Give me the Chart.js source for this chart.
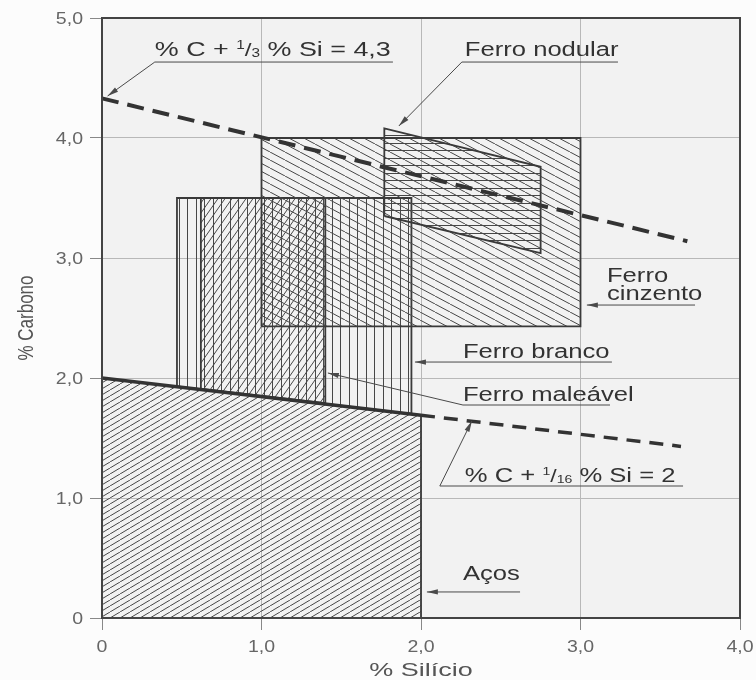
<!DOCTYPE html>
<html lang="pt">
<head>
<meta charset="UTF-8">
<title>Ferros fundidos e aços: % C x % Si</title>
<script src="https://cdn.jsdelivr.net/npm/chart.js"></script>
<style>
  body { margin: 0; background: #fdfdfd; }
  canvas { display: block; }
</style>
</head>
<body>
<canvas id="ferroChart" width="756" height="680"></canvas>
<script>
// rótulos dos eixos
const siTicks = ['0', '1,0', '2,0', '3,0', '4,0'];
const cTicks = ['0', '1,0', '2,0', '3,0', '4,0', '5,0'];

// regiões (% Si, % C)
const acosSi = [0, 0, 2.0, 2.0, 0];
const acosC = [0, 2.0, 1.69, 0, 0];
const brancoSi = [0.47, 0.47, 1.94, 1.94, 0.47];
const brancoC = [1.93, 3.5, 3.5, 1.70, 1.93];
const maleavelSi = [0.62, 0.62, 1.40, 1.40, 0.62];
const maleavelC = [1.91, 3.5, 3.5, 1.79, 1.91];
const cinzentoSi = [1.0, 1.0, 3.0, 3.0, 1.0];
const cinzentoC = [2.43, 4.0, 4.0, 2.43, 2.43];
const nodularSi = [1.77, 1.77, 2.75, 2.75, 1.77];
const nodularC = [3.35, 4.08, 3.76, 3.04, 3.35];

// linhas %C + 1/3 %Si = 4,3 e %C + 1/16 %Si = 2
const linha43Si = [0, 3.67];
const linha43C = [4.33, 3.14];
const linha2Si = [0, 2.0, 3.63];
const linha2C = [2.0, 1.69, 1.43];

const pts = (xs, ys) => xs.map((x, i) => ({ x: x, y: ys[i] }));

// hachuras
function hatch(w, h, draw) {
  const c = document.createElement('canvas');
  c.width = w; c.height = h;
  const g = c.getContext('2d');
  g.strokeStyle = '#474747';
  g.lineWidth = 1;
  g.beginPath();
  draw(g, w, h);
  g.stroke();
  return g.createPattern(c, 'repeat');
}
const slash = (w, h) => hatch(w, h, g => {
  for (let k = -1; k <= 1; k++) { g.moveTo(k * w, h); g.lineTo((k + 1) * w, 0); }
});
const backslash = (w, h) => hatch(w, h, g => {
  for (let k = -1; k <= 1; k++) { g.moveTo(k * w, 0); g.lineTo((k + 1) * w, h); }
});
const vlines = hatch(17, 4, g => { g.moveTo(0.5, 0); g.lineTo(0.5, 4); g.moveTo(9.5, 0); g.lineTo(9.5, 4); });
const hlines = hatch(4, 15, g => { g.moveTo(0, 0.5); g.lineTo(4, 0.5); g.moveTo(0, 8.5); g.lineTo(4, 8.5); });

function area(label, xs, ys, pattern) {
  return {
    label: label, data: pts(xs, ys), showLine: true, fill: 'shape',
    backgroundColor: pattern, borderColor: '#3a3a3a', borderWidth: 1.8,
    pointRadius: 0, tension: 0, clip: false
  };
}

// texto um pouco mais largo, como no original
function txt(ctx, s, x, y, size, sx, align, color) {
  ctx.save();
  ctx.font = size + 'px "Liberation Sans", Arial, sans-serif';
  ctx.fillStyle = color;
  ctx.textBaseline = 'alphabetic';
  const w = ctx.measureText(s).width * sx;
  const x0 = align === 'center' ? x - w / 2 : align === 'right' ? x - w : x;
  ctx.translate(x0, y);
  ctx.scale(sx, 1);
  ctx.fillText(s, 0, 0);
  ctx.restore();
}
function runs(ctx, parts, x, y, sx, color) {
  let cx = x;
  parts.forEach(([t, size, dy]) => {
    ctx.save();
    ctx.font = size + 'px "Liberation Sans", Arial, sans-serif';
    ctx.fillStyle = color;
    const w = ctx.measureText(t).width * sx;
    ctx.translate(cx, y + dy);
    ctx.scale(sx, 1);
    ctx.fillText(t, 0, 0);
    ctx.restore();
    cx += w;
  });
}

const f43 = [['% C + ', 21, 0], ['1', 12, -7], ['/', 19, 0], ['3', 12, 1], [' % Si = 4,3', 21, 0]];
const f2 = [['% C + ', 20, 0], ['1', 11, -7], ['/', 18, 0], ['16', 11, 1], [' % Si = 2', 20, 0]];

// anotações em coordenadas do gráfico (Si, C)
const notas = [
  { parts: f43, at: [0.331, 4.683], path: [[1.824, 4.633], [0.331, 4.633], [0.035, 4.35]] },
  { text: ['Ferro nodular'], at: [2.275, 4.683], path: [[3.235, 4.633], [2.256, 4.633], [1.861, 4.10]] },
  { text: ['Ferro', 'cinzento'], at: [3.166, 2.80], gap: 0.15, path: [[3.718, 2.608], [3.04, 2.608]] },
  { text: ['Ferro branco'], at: [2.263, 2.167], path: [[3.197, 2.133], [1.962, 2.133]] },
  { text: ['Ferro maleável'], at: [2.263, 1.808], path: [[3.185, 1.775], [2.263, 1.775], [1.416, 2.042]] },
  { parts: f2, at: [2.275, 1.133], path: [[3.643, 1.10], [2.118, 1.10], [2.319, 1.642]] },
  { text: ['Aços'], at: [2.263, 0.317], path: [[2.621, 0.217], [2.037, 0.217]] }
];

const decor = {
  id: 'decor',
  beforeDraw(chart) {
    const { ctx, chartArea: a } = chart;
    ctx.save();
    ctx.fillStyle = '#fcfcfc';
    ctx.fillRect(0, 0, chart.width, chart.height);
    ctx.fillStyle = '#f2f2f2';
    ctx.fillRect(a.left, a.top, a.right - a.left, a.bottom - a.top);
    ctx.restore();
  },
  afterDraw(chart) {
    const { ctx, chartArea: a, scales: { x, y } } = chart;
    ctx.save();
    ctx.strokeStyle = '#444';
    ctx.lineWidth = 2;
    ctx.strokeRect(a.left, a.top, a.right - a.left, a.bottom - a.top);
    ctx.restore();

    siTicks.forEach((t, i) => txt(ctx, t, x.getPixelForValue(i), a.bottom + 34, 16, 1.22, 'center', '#666'));
    cTicks.forEach((t, i) => txt(ctx, t, a.left - 19, y.getPixelForValue(i) + 6, 16, 1.22, 'right', '#666'));

    txt(ctx, '% Silício', (a.left + a.right) / 2, 676, 18, 1.5, 'center', '#555');
    ctx.save();
    ctx.translate(33, (a.top + a.bottom) / 2);
    ctx.scale(1.35, 1);
    ctx.rotate(-Math.PI / 2);
    ctx.font = '17px "Liberation Sans", Arial, sans-serif';
    ctx.fillStyle = '#555';
    ctx.textAlign = 'center';
    ctx.fillText('% Carbono', 0, 0);
    ctx.restore();

    notas.forEach(n => {
      const px = n.at[0], py = n.at[1];
      if (n.parts) {
        runs(ctx, n.parts, x.getPixelForValue(px), y.getPixelForValue(py), 1.28, '#333');
      } else {
        n.text.forEach((t, i) => txt(ctx, t, x.getPixelForValue(px), y.getPixelForValue(py - i * (n.gap || 0)), 20, 1.28, 'left', '#333'));
      }
      const p = n.path.map(([u, v]) => [x.getPixelForValue(u), y.getPixelForValue(v)]);
      ctx.save();
      ctx.strokeStyle = '#4a4a4a';
      ctx.fillStyle = '#4a4a4a';
      ctx.lineWidth = 1;
      ctx.beginPath();
      p.forEach(([u, v], i) => i ? ctx.lineTo(u, v) : ctx.moveTo(u, v));
      ctx.stroke();
      const [x1, y1] = p[p.length - 2], [x2, y2] = p[p.length - 1];
      const ang = Math.atan2(y2 - y1, x2 - x1);
      ctx.translate(x2, y2);
      ctx.rotate(ang);
      ctx.beginPath();
      ctx.moveTo(0, 0);
      ctx.lineTo(-11, -2.6);
      ctx.lineTo(-11, 2.6);
      ctx.closePath();
      ctx.fill();
      ctx.restore();
    });
  }
};

new Chart(document.getElementById('ferroChart'), {
  type: 'scatter',
  data: {
    datasets: [
      { label: '%C + 1/3 %Si = 4,3', data: pts(linha43Si, linha43C), showLine: true, fill: false,
        borderColor: '#333', borderWidth: 4, borderDash: [17, 9], pointRadius: 0, clip: false },
      { label: '%C + 1/16 %Si = 2', data: pts(linha2Si, linha2C), showLine: true, fill: false,
        borderColor: '#333', borderWidth: 3.5, pointRadius: 0, clip: false,
        segment: { borderDash: c => c.p0DataIndex === 1 ? [14, 9] : [] } },
      area('Ferro nodular', nodularSi, nodularC, hlines),
      area('Ferro cinzento', cinzentoSi, cinzentoC, backslash(15, 8)),
      area('Ferro maleável', maleavelSi, maleavelC, slash(7, 10)),
      area('Ferro branco', brancoSi, brancoC, vlines),
      area('Aços', acosSi, acosC, slash(10, 6))
    ]
  },
  options: {
    responsive: false,
    animation: false,
    layout: { padding: { top: 18, right: 16, left: 0, bottom: 0 } },
    plugins: { legend: { display: false }, tooltip: { enabled: false } },
    scales: {
      x: {
        type: 'linear', min: 0, max: 4,
        ticks: { stepSize: 1, display: false },
        grid: { color: '#b8b8b8', tickLength: 12, tickColor: '#888' },
        border: { display: false },
        afterFit: s => { s.height = 62; }
      },
      y: {
        type: 'linear', min: 0, max: 5,
        ticks: { stepSize: 1, display: false },
        grid: { color: '#b8b8b8', tickLength: 12, tickColor: '#888' },
        border: { display: false },
        afterFit: s => { s.width = 102; }
      }
    }
  },
  plugins: [decor]
});
</script>
</body>
</html>
